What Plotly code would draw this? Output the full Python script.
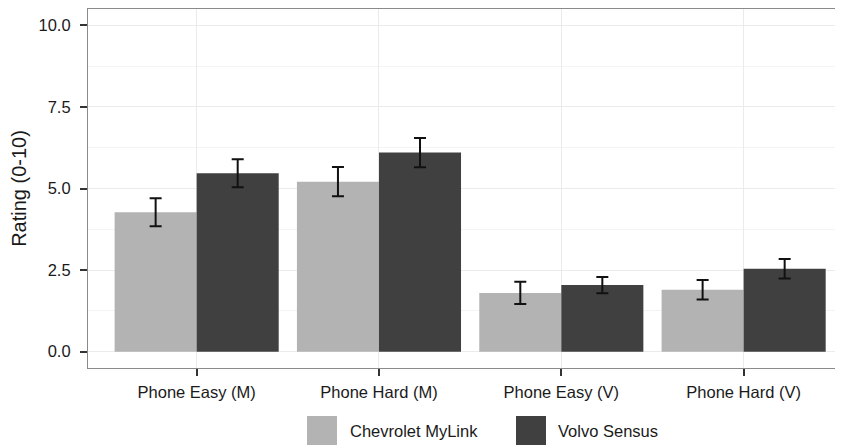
import plotly.graph_objects as go

# ---- data ----
categories = ["Phone Easy (M)", "Phone Hard (M)", "Phone Easy (V)", "Phone Hard (V)"]
series_names = ["Chevrolet MyLink", "Volvo Sensus"]
chevrolet = [4.27, 5.21, 1.80, 1.90]
chevrolet_err = [0.43, 0.45, 0.34, 0.30]
volvo = [5.47, 6.10, 2.04, 2.54]
volvo_err = [0.43, 0.45, 0.25, 0.30]
y_ticks = [0.0, 2.5, 5.0, 7.5, 10.0]
y_minor = [1.25, 3.75, 6.25, 8.75]

colors = ["#b3b3b3", "#404040"]
# page body has an 8px margin, so the figure is sized to fit the window
W, H = 835, 439
ML, MR, MT, MB = 80, 0, 1, 79
FONT = "Liberation Sans, Arial, sans-serif"
FS = 16.5
FS_TITLE = 20

fig = go.Figure()
for name, vals, errs, col in zip(series_names, [chevrolet, volvo],
                                 [chevrolet_err, volvo_err], colors):
    fig.add_trace(go.Bar(
        x=categories, y=vals, name=name,
        marker=dict(color=col, line=dict(width=0)),
        error_y=dict(type="data", array=errs, visible=True,
                     color="#111111", thickness=2, width=6),
        showlegend=False,
    ))

fig.update_layout(
    width=W, height=H,
    margin=dict(l=ML, r=MR, t=MT, b=MB),
    paper_bgcolor="white", plot_bgcolor="white",
    barmode="group", bargap=0.1, bargroupgap=0,
    font=dict(family=FONT, size=FS, color="#1a1a1a"),
)

fig.update_xaxes(
    type="category",
    range=[-0.596, 3.545],
    showgrid=True, gridcolor="#ebebeb", gridwidth=1,
    showline=True, linecolor="#8a8a8a", linewidth=1.2, mirror=True,
    ticks="outside", ticklen=7, tickcolor="#333333", tickwidth=1.5,
    ticklabelstandoff=2,
    tickfont=dict(family=FONT, size=FS, color="#1a1a1a"),
    zeroline=False,
)
fig.update_yaxes(
    range=[-0.5, 10.5],
    tickvals=y_ticks, tickformat=".1f",
    showgrid=True, gridcolor="#ebebeb", gridwidth=1,
    minor=dict(tickvals=y_minor, showgrid=True, gridcolor="#f4f4f4", gridwidth=1),
    showline=True, linecolor="#8a8a8a", linewidth=1.2, mirror=False,
    ticks="outside", ticklen=7, tickcolor="#333333", tickwidth=1.5,
    ticklabelstandoff=6,
    tickfont=dict(family=FONT, size=FS, color="#1a1a1a"),
    title=dict(text="Rating (0-10)", font=dict(family=FONT, size=FS_TITLE, color="#1a1a1a"),
               standoff=6),
    zeroline=False,
)

# ---- legend drawn below the panel ----
pw = W - ML - MR
ph = H - MT - MB
def px2x(px):
    return (px - ML) / pw
def py2y(py):
    return (H - MB - py) / ph

sw_left = [299, 508]
txt_left = [340, 548]
for name, col, sl, tl in zip(series_names, colors, sw_left, txt_left):
    fig.add_shape(type="rect", xref="paper", yref="paper",
                  x0=px2x(sl), x1=px2x(sl + 30), y0=py2y(408), y1=py2y(437),
                  fillcolor=col, line=dict(width=0))
    fig.add_annotation(xref="paper", yref="paper", x=px2x(tl), y=py2y(423),
                       text=name, showarrow=False, xanchor="left", yanchor="middle",
                       font=dict(family=FONT, size=FS, color="#1a1a1a"))

fig.write_html("out.html")
